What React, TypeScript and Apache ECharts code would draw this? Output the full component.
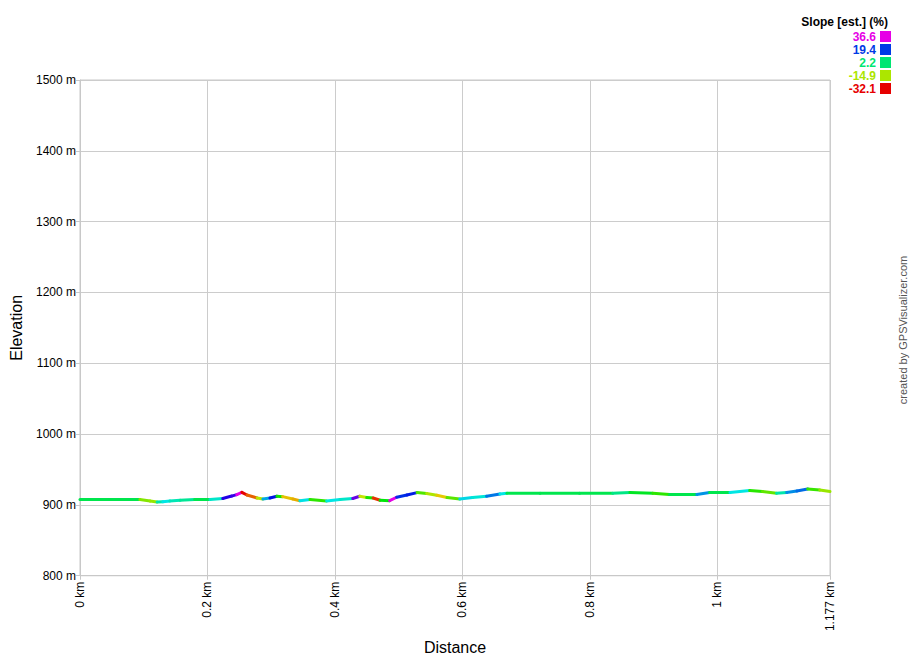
import React, { useEffect, useRef } from "react";
import * as echarts from "echarts";

const distKm = [0, 0.0235, 0.047, 0.0706, 0.094, 0.11, 0.121, 0.13, 0.141, 0.157, 0.18, 0.204, 0.224, 0.238, 0.246, 0.254, 0.262, 0.278, 0.287, 0.298, 0.309, 0.318, 0.334, 0.345, 0.361, 0.387, 0.408, 0.428, 0.439, 0.45, 0.46, 0.471, 0.486, 0.497, 0.513, 0.529, 0.544, 0.56, 0.576, 0.596, 0.616, 0.638, 0.659, 0.67, 0.722, 0.784, 0.836, 0.863, 0.899, 0.925, 0.968, 0.988, 1.02, 1.051, 1.071, 1.093, 1.109, 1.125, 1.142, 1.161, 1.177];
const elevM = [907.5, 907.5, 907.5, 907.5, 907.5, 905.5, 904, 904.5, 905.5, 906.5, 907.5, 907.5, 909, 912.5, 914.6, 917.8, 914, 909.8, 908.4, 909.8, 912.2, 911.7, 908.4, 906, 907.5, 905.6, 907.5, 909, 912.2, 910.4, 909.8, 906.6, 906, 910.8, 914, 917.4, 916, 913.6, 910.4, 908.4, 910.4, 912.2, 915.5, 916.5, 916.5, 916.5, 916.5, 917.4, 916.5, 914.6, 914.6, 917.4, 917.4, 920.2, 918.8, 916.5, 917.4, 919.7, 922.5, 921, 918.8];

const legendTitle = "Slope [est.] (%)";
const legendValues = [36.6, 19.4, 2.2, -14.9, -32.1];
const xMaxKm = 1.177;
const watermark = "created by GPSVisualizer.com";

const SLOPE_MIN = -32.1;
const SLOPE_MAX = 36.6;

function slopeColor(s: number): string {
  const t = Math.min(1, Math.max(0, (s - SLOPE_MIN) / (SLOPE_MAX - SLOPE_MIN)));
  const h = t * 300;
  const v = 0.9;
  const c = v;
  const hp = h / 60;
  const x = c * (1 - Math.abs((hp % 2) - 1));
  let r = 0, g = 0, b = 0;
  if (hp < 1) { r = c; g = x; }
  else if (hp < 2) { r = x; g = c; }
  else if (hp < 3) { g = c; b = x; }
  else if (hp < 4) { g = x; b = c; }
  else if (hp < 5) { r = x; b = c; }
  else { r = c; b = x; }
  const toHex = (n: number) => Math.round(n * 255).toString(16).padStart(2, "0");
  return "#" + toHex(r) + toHex(g) + toHex(b);
}

export default function App() {
  const ref = useRef<HTMLDivElement>(null);
  useEffect(() => {
    if (!ref.current) return;
    const chart = echarts.init(ref.current, undefined, { renderer: "svg" });
    const segs: number[][] = [];
    for (let i = 0; i < distKm.length - 1; i++) {
      const dm = (distKm[i + 1] - distKm[i]) * 1000;
      const slope = dm > 0 ? ((elevM[i + 1] - elevM[i]) / dm) * 100 : 0;
      segs.push([distKm[i], elevM[i], distKm[i + 1], elevM[i + 1], slope]);
    }
    const font = "'Liberation Sans', Arial, sans-serif";
    const legendGraphics: any[] = [
      {
        type: "text",
        right: 910 - 888,
        top: 16,
        style: { text: legendTitle, font: `bold 12px ${font}`, fill: "#000", textAlign: "right" },
      },
    ];
    legendValues.forEach((v, i) => {
      const col = slopeColor(v);
      legendGraphics.push({
        type: "text",
        x: 876,
        y: 37 + i * 13,
        style: { text: v.toFixed(1), font: `bold 12px ${font}`, fill: col, textAlign: "right", textVerticalAlign: "middle" },
      });
      legendGraphics.push({
        type: "rect",
        shape: { x: 880, y: 31 + i * 13, width: 11, height: 11 },
        style: { fill: col },
      });
    });
    legendGraphics.push({
      type: "text",
      x: 903,
      y: 330,
      rotation: Math.PI / 2,
      style: { text: watermark, font: `11px ${font}`, fill: "#555", textAlign: "center", textVerticalAlign: "middle" },
    });

    chart.setOption({
      animation: false,
      backgroundColor: "#fff",
      textStyle: { fontFamily: font },
      grid: { left: 80, right: 80, top: 80, bottom: 81, show: true, borderColor: "#c8c8c8", borderWidth: 1, containLabel: false },
      xAxis: {
        type: "value",
        min: 0,
        max: xMaxKm,
        interval: 0.2,
        name: "Distance",
        nameLocation: "middle",
        nameGap: 62,
        nameTextStyle: { fontSize: 16, color: "#000", fontFamily: font },
        axisLine: { show: true, lineStyle: { color: "#c8c8c8" } },
        axisTick: { show: true, length: 4, lineStyle: { color: "#c8c8c8" } },
        splitLine: { show: true, lineStyle: { color: "#cccccc" } },
        axisLabel: {
          rotate: 90,
          margin: 6,
          fontSize: 12,
          color: "#000",
          fontFamily: font,
          showMaxLabel: true,
          formatter: (v: number) => `${+v.toFixed(3)} km`,
        },
      },
      yAxis: {
        type: "value",
        min: 800,
        max: 1500,
        interval: 100,
        name: "Elevation",
        nameLocation: "middle",
        nameRotate: 90,
        nameGap: 56,
        nameTextStyle: { fontSize: 16, color: "#000", fontFamily: font },
        axisLine: { show: true, lineStyle: { color: "#c8c8c8" } },
        axisTick: { show: true, length: 4, lineStyle: { color: "#c8c8c8" } },
        splitLine: { show: true, lineStyle: { color: "#cccccc" } },
        axisLabel: { margin: 4, fontSize: 12, color: "#000", fontFamily: font, formatter: (v: number) => `${Math.round(v)} m` },
      },
      graphic: legendGraphics,
      series: [
        {
          type: "custom",
          data: segs,
          encode: { x: [0, 2], y: [1, 3] },
          renderItem: (params: any, api: any) => {
            const p0 = api.coord([api.value(0), api.value(1)]);
            const p1 = api.coord([api.value(2), api.value(3)]);
            return {
              type: "line",
              shape: { x1: p0[0], y1: p0[1], x2: p1[0], y2: p1[1] },
              style: { stroke: slopeColor(api.value(4)), lineWidth: 3, lineCap: "round" },
            };
          },
        },
      ],
    });
    return () => chart.dispose();
  }, []);
  return <div ref={ref} style={{ position: "absolute", left: 0, top: 0, width: 910, height: 660 }} />;
}
